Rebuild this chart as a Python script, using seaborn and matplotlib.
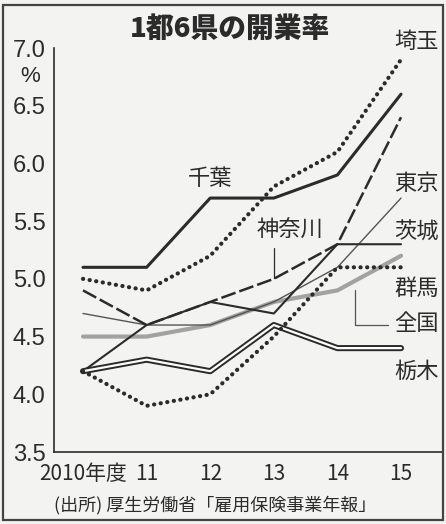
import numpy as np
import matplotlib
matplotlib.use('Agg')
import matplotlib.pyplot as plt
import seaborn as sns
from matplotlib.patches import Rectangle

# data (開業率, %)
years = ['2010年度', '11', '12', '13', '14', '15']
chiba = [5.1, 5.1, 5.7, 5.7, 5.9, 6.6]
saitama = [5.0, 4.9, 5.2, 5.8, 6.1, 6.9]
kanagawa = [4.9, 4.6, 4.8, 5.0, 5.3, 6.4]
tokyo = [4.7, 4.6, 4.6, 4.8, 5.1, 5.7]
ibaraki = [4.2, 4.6, 4.8, 4.7, 5.3, 5.3]
gunma = [4.2, 3.9, 4.0, 4.5, 5.1, 5.1]
tochigi = [4.2, 4.3, 4.2, 4.6, 4.4, 4.4]
zenkoku = [4.5, 4.5, 4.6, 4.8, 4.9, 5.2]
yticks = [3.5, 4.0, 4.5, 5.0, 5.5, 6.0, 6.5, 7.0]

sns.set_style('white')
plt.rcParams['font.family'] = ['Noto Sans CJK JP', 'DejaVu Sans']

W, H = 446, 524
fig = plt.figure(figsize=(W / 100, H / 100), dpi=100, facecolor='#f3f3f1')
ax = fig.add_axes([54 / W, 1 - 452 / H, 389 / W, 404 / H])
ax.set_facecolor('none')

x = np.arange(len(years))
ink = '#2b2b2b'

# 全国 (gray, drawn first)
sns.lineplot(x=x, y=zenkoku, ax=ax, color='#a2a2a2', lw=3.0, solid_capstyle='round')
# 東京 (thin)
sns.lineplot(x=x, y=tokyo, ax=ax, color='#555555', lw=1.0)
# 茨城
sns.lineplot(x=x, y=ibaraki, ax=ax, color=ink, lw=1.5)
# 神奈川 (long dashes)
sns.lineplot(x=x, y=kanagawa, ax=ax, color=ink, lw=1.8, linestyle=(0, (6, 1.6)))
# 栃木 (double line)
sns.lineplot(x=x, y=tochigi, ax=ax, color=ink, lw=4.4, solid_capstyle='round')
sns.lineplot(x=x, y=tochigi, ax=ax, color='white', lw=1.6, solid_capstyle='round')
# 群馬 / 埼玉 (dotted)
sns.lineplot(x=x, y=gunma, ax=ax, color=ink, lw=3.0, linestyle=(0, (0.05, 1.55)),
             dash_capstyle='round')
sns.lineplot(x=x, y=saitama, ax=ax, color=ink, lw=3.0, linestyle=(0, (0.05, 1.55)),
             dash_capstyle='round')
# 千葉
sns.lineplot(x=x, y=chiba, ax=ax, color=ink, lw=2.2)

ax.set_xlim(-0.456, 5.66)
ax.set_ylim(3.5, 7.0)
for s in ['top', 'right']:
    ax.spines[s].set_visible(False)
for s in ['left', 'bottom']:
    ax.spines[s].set_color(ink)
    ax.spines[s].set_linewidth(1.2)

ax.set_yticks(yticks)
ax.set_yticklabels([f'{v:.1f}' for v in yticks])
ax.set_xticks(x)
ax.set_xticklabels(years)
ax.tick_params(axis='y', direction='in', length=6, width=1, pad=6,
               labelsize=17, colors=ink)
ax.tick_params(axis='x', direction='in', length=7, width=1, pad=8,
               labelsize=15, colors=ink)
for lab in ax.get_xticklabels():
    lab.set_family(['Liberation Sans Narrow', 'Noto Sans CJK JP'])
for lab in ax.get_yticklabels():
    lab.set_family(['Liberation Sans', 'DejaVu Sans'])

# series labels
lab_kw = dict(fontsize=16, color=ink, ha='center', va='center')
ax.text(5.24, 7.06, '埼玉', clip_on=False, **lab_kw)
ax.text(5.24, 5.83, '東京', **lab_kw)
ax.text(5.24, 5.40, '茨城', **lab_kw)
ax.text(5.24, 4.92, '群馬', **lab_kw)
ax.text(5.24, 4.61, '全国', **lab_kw)
ax.text(5.24, 4.20, '栃木', **lab_kw)
ax.text(2.0, 5.87, '千葉', **lab_kw)
ax.text(3.25, 5.42, '神奈川', **lab_kw)

# leader lines
ax.plot([3.0, 3.0], [5.27, 5.01], color=ink, lw=0.9)
ax.plot([4.28, 4.28, 4.80], [4.90, 4.60, 4.60], color='#555555', lw=0.9)

fig.text(30 / W, 1 - 76 / H, '%', fontsize=16, color=ink, ha='center', va='center',
         family=['Liberation Sans', 'DejaVu Sans'])
fig.text(230 / W, 1 - 29 / H, '1都6県の開業率', fontsize=20, fontweight='black',
         color=ink, ha='center', va='center')
fig.text(215 / W, 1 - 505 / H, '(出所) 厚生労働省「雇用保険事業年報」', fontsize=13,
         color=ink, ha='center', va='center')

fig.patches.append(Rectangle((3 / W, 1 - 520 / H), 440 / W, 515 / H,
                             transform=fig.transFigure, fill=False,
                             edgecolor='#444444', lw=1.6))

fig.savefig('out.png', dpi=100, facecolor=fig.get_facecolor())
